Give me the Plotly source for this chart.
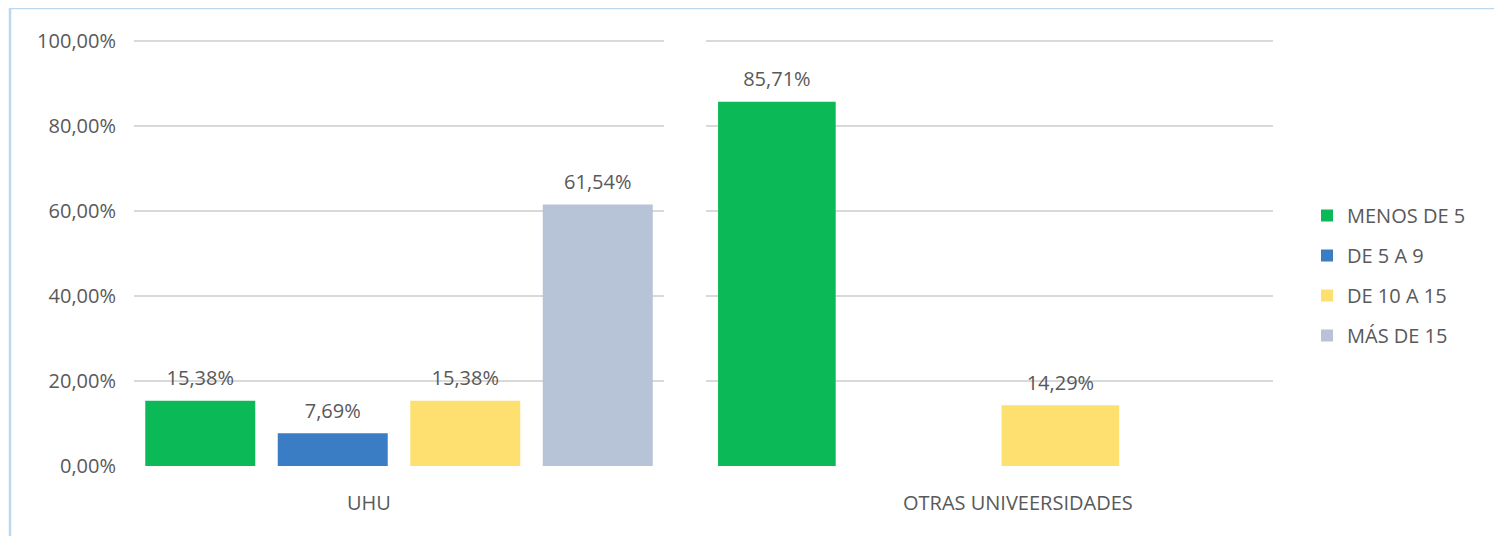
import plotly.graph_objects as go

# ---- data ----
series_names = ["MENOS DE 5", "DE 5 A 9", "DE 10 A 15", "MÁS DE 15"]
uhu_values = [15.38, 7.69, 15.38, 61.54]
otras_values = [85.71, None, 14.29, None]
groups = ["UHU", "OTRAS UNIVEERSIDADES"]
y_ticks = [0, 20, 40, 60, 80, 100]
y_tick_labels = ["0,00%", "20,00%", "40,00%", "60,00%", "80,00%", "100,00%"]
colors = ["#0BBA56", "#3A7DC4", "#FDE070", "#B7C3D6"]

OFF = 8  # page body margin
W, H = 1502 - OFF, 536 - OFF
FONT = "Open Sans"
TXT = "#595959"
FS = 20
Y_MAX = 101
PX_PER_UNIT = (466 - 41) / 100.0


def px(x):
    return (x - OFF) / W


def py(y):
    return 1 - (y - OFF) / H


def fmt(v):
    if v is None:
        return ""
    return ("<span style='font-size:%dpx'>" % FS + f"{v:.2f}".replace(".", ",")
            + "%</span><br><span style='color:rgba(0,0,0,0)'>.</span>")


fig = go.Figure()
for i, name in enumerate(series_names):
    for axis_i, (vals, xa, ya) in enumerate([(uhu_values, "x", "y"), (otras_values, "x2", "y2")]):
        v = vals[i]
        fig.add_trace(go.Bar(
            x=[groups[axis_i]], y=[v], name=name,
            marker=dict(color=colors[i], line=dict(width=0)),
            text=[fmt(v)], textposition="outside", cliponaxis=False,
            textfont=dict(family=FONT, size=8, color=TXT),
            constraintext="none",
            legendgroup=name, showlegend=(axis_i == 0),
            xaxis=xa, yaxis=ya, hoverinfo="skip",
        ))

grid = dict(showgrid=True, gridcolor="#D9D9D9", gridwidth=2, zeroline=False,
            range=[0, Y_MAX], tickvals=y_ticks, showline=False, automargin=False,
            fixedrange=True)
y_top_px = 466 - Y_MAX * PX_PER_UNIT

fig.update_layout(
    width=W, height=H,
    margin=dict(l=0, r=0, t=0, b=0),
    template="none",
    paper_bgcolor="white", plot_bgcolor="white",
    barmode="group", bargap=0, bargroupgap=0.17,
    font=dict(family=FONT, size=FS, color=TXT),
    xaxis=dict(domain=[px(134), px(664)], showticklabels=False, showgrid=False,
               zeroline=False, automargin=False, fixedrange=True),
    xaxis2=dict(domain=[px(706), px(1273)], showticklabels=False, showgrid=False,
                zeroline=False, automargin=False, anchor="y2", fixedrange=True),
    yaxis=dict(domain=[py(466), py(y_top_px)], ticktext=y_tick_labels, ticklabelstandoff=17,
               tickfont=dict(family=FONT, size=FS, color=TXT), **grid),
    yaxis2=dict(domain=[py(466), py(y_top_px)], anchor="x2", showticklabels=False, **grid),
    legend=dict(x=px(1307), y=py(196), xanchor="left", yanchor="top",
                font=dict(family=FONT, size=FS, color=TXT),
                tracegroupgap=11, itemwidth=30, bgcolor="rgba(0,0,0,0)"),
    showlegend=True,
)

for label, cx in zip(groups, [369, 1018]):
    fig.add_annotation(text=label, x=px(cx), y=py(502), xref="paper", yref="paper",
                       xanchor="center", yanchor="middle",
                       showarrow=False, font=dict(family=FONT, size=FS, color=TXT))

fig.add_shape(type="rect", xref="paper", yref="paper",
              x0=px(10), y0=py(580), x1=px(1580), y1=py(8),
              line=dict(color="#BDD7EE", width=2.5), fillcolor="rgba(0,0,0,0)", layer="below")

fig.write_html("out.html")
